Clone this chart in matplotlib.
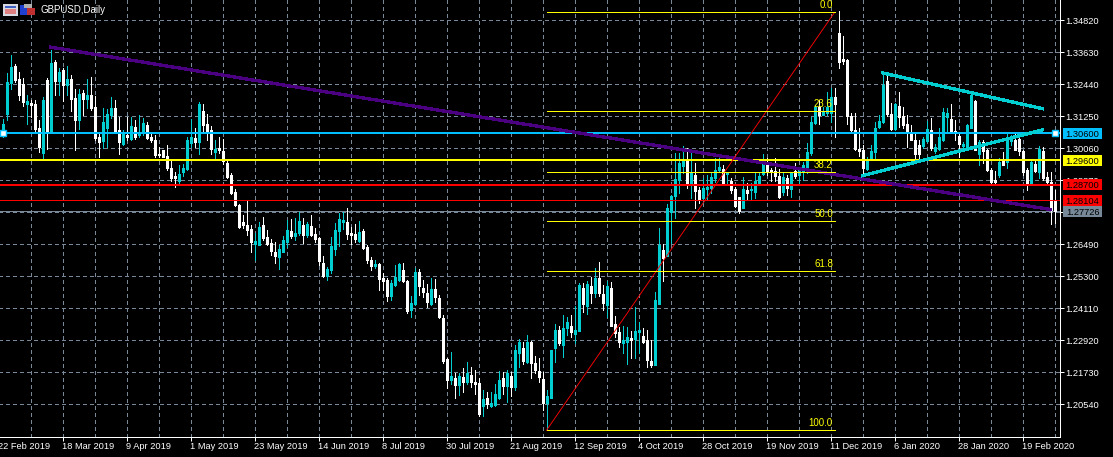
import numpy as np
import matplotlib
matplotlib.use("Agg")
import matplotlib.pyplot as plt
from matplotlib.patches import Rectangle
from matplotlib.transforms import Affine2D
from matplotlib.ticker import FixedLocator

# Candle values, in units of 0.0001 (GBPUSD); T = up candle, W = down candle
direction = ("TTTWWWTWWW" "TWTWTWTWWT" "WTWWWTTTWW" "TWTWTTWWWW" "WWWWTTTTWT" "WWWTWWWWWW" "WWWTTWWWWT"
             "TTWTTWTWWW" "WTTTTTWWWT" "WWWTWWWTTT" "WWTTWWWTWW" "WWTWTWTWWW" "TWTTTWTWTT" "WTWWWWTTTW"
             "TTWTTWTWTW" "WTWWWTTWTT" "WWWTTWTTTT" "TWTWWTTTTT" "WTWWWTWTTT" "TWWWWTWTWT" "TTTTWTTTWW"
             "WWWWWWTTTT" "TWWTWWWWWW" "TTWTTTTWWW" "TTTWTWWWWT" "WTTWWWWTWT" "WWWW")
body_top = [
 13097,13252,13309,13312,13264,13246,13182,13175,13171,13082,
 13186,13260,13324,13327,13290,13298,13264,13264,13193,13208,
 13212,13205,13205,13160,13048,13104,13134,13156,13156,13074,
 13059,13056,13089,13086,13063,13100,13093,13048,13037,12985,
 13000,12978,12933,12903,12911,12933,13037,13048,13045,13171,
 13145,13097,13074,13004,13007,12996,12952,12907,12844,12795,
 12732,12721,12706,12661,12714,12721,12676,12654,12621,12632,
 12665,12702,12699,12691,12736,12721,12725,12717,12688,12673,
 12580,12557,12643,12702,12743,12740,12732,12691,12688,12695,
 12699,12639,12591,12576,12576,12524,12516,12505,12528,12576,
 12554,12513,12431,12546,12546,12487,12468,12483,12483,12450,
 12375,12223,12159,12152,12159,12156,12170,12163,12137,12133,
 12074,12077,12059,12092,12144,12152,12170,12159,12256,12286,
 12264,12286,12286,12208,12178,12148,12085,12256,12330,12330,
 12338,12360,12345,12330,12498,12487,12502,12494,12524,12524,
 12464,12494,12487,12353,12323,12293,12304,12301,12327,12330,
 12308,12293,12215,12442,12647,12628,12784,12829,12892,12952,
 12963,12963,12918,12907,12851,12859,12862,12900,12926,12937,
 12929,12914,12885,12855,12825,12855,12851,12855,12885,12903,
 12952,12944,12926,12922,12903,12900,12896,12914,12922,12926,
 12944,12993,13104,13160,13160,13145,13160,13197,13197,13435,
 13339,13335,13126,13074,13004,13000,12963,12996,13082,13108,
 13242,13257,13134,13171,13164,13126,13097,13067,13037,13019,
 13041,13078,13074,13011,13048,13141,13138,13115,13071,13052,
 13022,13093,13205,13182,13030,13030,13000,12926,12888,12955,
 12959,13037,13045,13037,13041,12996,12926,12955,12948,13004,
 12996,12900,12881,12810]
body_bot = [
 13068,13134,13249,13260,13205,13179,13171,13167,13078,13011,
 12988,13071,13071,13257,13257,13242,13242,13190,13112,13112,
 13190,13190,13156,13045,13030,13033,13082,13130,13071,13030,
 13022,13048,13041,13048,13056,13063,13045,13037,12981,12981,
 12974,12933,12896,12896,12885,12918,12929,13026,13030,13030,
 13093,13071,13004,12993,13000,12959,12900,12840,12795,12714,
 12721,12702,12658,12650,12647,12673,12650,12624,12606,12602,
 12621,12658,12680,12680,12691,12684,12684,12684,12669,12587,
 12531,12531,12554,12632,12699,12732,12688,12684,12669,12661,
 12635,12591,12568,12568,12520,12513,12457,12457,12498,12516,
 12513,12401,12405,12427,12494,12472,12435,12427,12453,12379,
 12215,12144,12144,12126,12126,12137,12137,12137,12130,12018,
 12048,12055,12048,12051,12077,12122,12122,12118,12118,12245,
 12215,12211,12208,12182,12156,12059,12059,12077,12264,12282,
 12275,12338,12323,12316,12327,12427,12420,12468,12468,12468,
 12431,12423,12345,12319,12286,12282,12286,12293,12297,12323,
 12286,12219,12200,12200,12427,12598,12606,12769,12829,12888,
 12940,12870,12874,12847,12818,12821,12855,12859,12896,12926,
 12877,12911,12851,12792,12773,12784,12840,12851,12844,12877,
 12911,12922,12922,12903,12825,12844,12859,12855,12903,12907,
 12918,12926,12989,13100,13130,13130,13138,13138,13171,13327,
 13331,13126,13074,13004,12996,12933,12929,12967,12993,13086,
 13104,13134,13078,13078,13123,13093,13067,13037,12985,12985,
 13015,13033,13007,12996,13004,13037,13123,13067,13063,13022,
 13015,13004,13082,13000,12985,12996,12926,12881,12881,12907,
 12944,12955,13033,13000,12996,12918,12874,12874,12922,12918,
 12896,12881,12777,12773]
highs = [
 13114,13288,13353,13322,13291,13267,13205,13186,13186,13112,
 13198,13267,13374,13335,13304,13304,13312,13279,13226,13229,
 13223,13264,13270,13201,13062,13155,13151,13196,13188,13124,
 13074,13124,13124,13112,13130,13118,13105,13062,13056,13012,
 13000,13019,12963,12919,12944,12948,13050,13114,13081,13179,
 13171,13134,13089,13037,13050,13043,12963,12913,12854,12799,
 12758,12810,12721,12691,12732,12751,12702,12669,12658,12647,
 12680,12740,12743,12747,12769,12747,12732,12758,12710,12676,
 12606,12565,12676,12728,12766,12769,12784,12714,12725,12736,
 12706,12647,12602,12591,12580,12542,12524,12516,12572,12580,
 12580,12516,12457,12561,12557,12516,12502,12524,12520,12461,
 12386,12226,12249,12170,12170,12189,12211,12193,12182,12152,
 12107,12100,12100,12130,12178,12174,12182,12174,12275,12297,
 12286,12312,12289,12234,12226,12174,12107,12256,12353,12345,
 12386,12379,12386,12420,12505,12505,12513,12528,12561,12583,
 12498,12513,12509,12382,12342,12345,12342,12327,12416,12360,
 12338,12330,12293,12472,12710,12650,12799,12833,12989,12989,
 13015,13007,13000,12952,12862,12896,12907,12918,12970,12974,
 12944,12918,12896,12862,12825,12900,12877,12877,12918,12918,
 12985,12970,12933,12970,12929,12914,12907,12918,12952,12937,
 12955,13026,13123,13167,13186,13160,13216,13231,13231,13517,
 13424,13339,13138,13138,13082,13019,12974,13019,13104,13130,
 13286,13279,13175,13175,13216,13160,13130,13093,13063,13037,
 13048,13108,13119,13022,13082,13156,13156,13171,13112,13063,
 13030,13097,13212,13186,13037,13037,13004,12933,12922,12970,
 12993,13067,13056,13063,13056,13000,12933,12963,12963,13015,
 13011,12918,12918,12851]
lows = [
 13050,13112,13229,13254,13186,13164,13097,13124,13068,12994,
 12965,13004,13068,13205,13205,13182,13205,13145,13000,13078,
 13130,13155,13149,13037,12975,13006,13012,13119,13068,12985,
 13019,13037,13037,13043,13050,13056,13040,13030,12975,12975,
 12974,12926,12885,12864,12874,12903,12926,13012,13012,12985,
 13068,13037,12985,12963,12990,12950,12895,12836,12792,12710,
 12710,12684,12621,12591,12647,12665,12647,12609,12580,12557,
 12621,12639,12673,12665,12684,12654,12676,12680,12658,12572,
 12528,12516,12542,12609,12643,12706,12669,12650,12658,12658,
 12632,12580,12554,12561,12479,12479,12438,12442,12494,12513,
 12509,12394,12379,12423,12461,12453,12416,12423,12435,12375,
 12208,12115,12130,12077,12089,12100,12130,12118,12092,12011,
 12011,12040,12044,12048,12074,12092,12062,12085,12107,12193,
 12204,12208,12152,12170,12137,12033,11958,12077,12211,12275,
 12230,12312,12304,12282,12327,12397,12390,12431,12453,12457,
 12405,12379,12345,12304,12267,12245,12204,12226,12226,12245,
 12282,12193,12193,12200,12427,12513,12606,12654,12747,12840,
 12914,12859,12821,12784,12803,12803,12814,12840,12881,12918,
 12870,12877,12840,12788,12766,12784,12814,12814,12821,12877,
 12907,12907,12885,12885,12821,12833,12833,12825,12896,12877,
 12888,12914,12981,13097,13097,13130,13130,13104,13048,13305,
 13320,13097,13063,13000,12978,12907,12926,12963,12963,13082,
 13100,13126,13074,13074,13086,13082,13011,13037,12963,12963,
 13007,13030,13000,12989,13000,13033,13063,13063,13037,12974,
 13007,13000,13082,13000,12944,12952,12922,12877,12874,12900,
 12944,12933,13019,13000,12981,12907,12851,12874,12918,12896,
 12888,12877,12725,12728]

date_labels = ["22 Feb 2019", "18 Mar 2019", "9 Apr 2019", "1 May 2019", "23 May 2019", "14 Jun 2019",
               "8 Jul 2019", "30 Jul 2019", "21 Aug 2019", "12 Sep 2019", "4 Oct 2019", "28 Oct 2019",
               "19 Nov 2019", "11 Dec 2019", "6 Jan 2020", "28 Jan 2020", "19 Feb 2020"]
price_ticks = [1.34820, 1.33630, 1.32440, 1.31250, 1.30060, 1.28870, 1.27680,
               1.26490, 1.25300, 1.24110, 1.22920, 1.21730, 1.20540]
hidden_ticks = [1.27680]

# Horizontal levels: (price of the line, price of the box, caption, colour, line px)
levels = [(1.3063, 1.3063, "1.30600", "#00BFFF", 2),
          (1.2964, 1.2961, "1.29600", "#FFFF00", 2),
          (1.2871, 1.2871, "1.28700", "#FF0000", 2),
          (1.2813, 1.2813, "1.28104", "#FF0000", 1)]
bid_price = 1.27726

# Trend lines: candle index and price
purple_n, purple_p = [12, 262], [1.3383, 1.2779]
cyan_up_n, cyan_up_p = [220, 260], [1.3287, 1.3154]
cyan_lo_n, cyan_lo_p = [215, 260], [1.2905, 1.3075]

# Fibonacci retracement
fib_n = [136, 208]
fib_high, fib_low = 1.3512, 1.1958
fib_ratios = [0.0, 0.236, 0.382, 0.5, 0.618, 1.0]
fib_labels = ["0.0", "23.6", "38.2", "50.0", "61.8", "100.0"]

W, H = 1113, 457
PX = 1 / (0.0119 / 32)          # pixels per unit of price
TEAL = "#00CED1"
GRID = "#778899"
px = 72 / 100                   # points per pixel
FONT = 6.7

plt.rcParams["font.family"] = "Liberation Sans"
fig = plt.figure(figsize=(W / 100, H / 100), dpi=100, facecolor="black")
right, bottom = 1060.5, 436.5
ax = fig.add_axes([-1.5 / W, 1 - bottom / H, (right + 0.5) / W, bottom / H], facecolor="black")
ax.set_xlim(-1, -1 + (right + 0.5) / 4)
ax.set_ylim(1.35582 - bottom / PX, 1.35582)
ax.set_axisbelow(True)

x = np.arange(len(direction))
top = np.array(body_top) / 1e4
bot = np.array(body_bot) / 1e4
hi = np.array(highs) / 1e4
lo = np.array(lows) / 1e4
up = np.array([c == "T" for c in direction])
colors = [TEAL if u else "white" for u in up]

ax.vlines(x, lo, hi, colors=colors, linewidth=px, zorder=3, antialiased=False)
ax.vlines(x, bot, top, colors=colors, linewidth=3 * px, capstyle="butt", zorder=3.1, antialiased=False)

# Axes, ticks and grid
for s in ("top", "left"):
    ax.spines[s].set_visible(False)
for s in ("right", "bottom"):
    ax.spines[s].set_color("white")
    ax.spines[s].set_linewidth(px)
    ax.spines[s].set_antialiased(False)
ax.yaxis.tick_right()
ax.set_yticks(price_ticks)
ax.set_yticklabels(["" if p in hidden_ticks else f"{p:.5f}" for p in price_ticks])
ax.set_xticks(-1 + 16 * np.arange(len(date_labels)))
ax.set_xticklabels(date_labels, ha="left")
ax.xaxis.set_minor_locator(FixedLocator(7 + 16 * np.arange(len(date_labels))))
ax.tick_params(axis="both", which="major", colors="white", labelcolor="white", length=4 * px,
               width=px, labelsize=FONT, pad=1.3)
ax.tick_params(axis="x", which="minor", length=0)
ax.grid(True, which="both", color=GRID, linewidth=px, linestyle=(0, (3.5, 3)), antialiased=False)

# Levels and their boxes on the right
def box(price, color, text):
    ax.add_patch(Rectangle((1 + 3.5 / right, price - 5.5 / PX), 39 / right, 11 / PX,
                           transform=ax.get_yaxis_transform(), clip_on=False,
                           facecolor=color, edgecolor="none", zorder=10))
    ax.text(1 + 23 / right, price, text, transform=ax.get_yaxis_transform(), color="black",
            fontsize=FONT, ha="center", va="center_baseline", zorder=11, clip_on=False)

for line_p, box_p, cap, col, w in levels:
    ax.axhline(line_p, color=col, linewidth=w * px, zorder=5, antialiased=False)
    box(box_p, col, cap)
ax.axhline(bid_price, color=GRID, linewidth=px, zorder=2, antialiased=False)
box(bid_price, GRID, f"{bid_price:.5f}")

ax.plot([0, 263], [levels[0][0]] * 2, linestyle="none", marker="s", markersize=6 * px,
        markerfacecolor="white", markeredgecolor="#00BFFF", markeredgewidth=1.4 * px, zorder=6)

# Trend lines
ax.plot(purple_n, purple_p, color="#4B0082", linewidth=2.3 * px, zorder=6, antialiased=False)
ax.plot(cyan_up_n, cyan_up_p, color=TEAL, linewidth=2.3 * px, zorder=6, antialiased=False)
ax.plot(cyan_lo_n, cyan_lo_p, color=TEAL, linewidth=2.3 * px, zorder=6, antialiased=False)

# Fibonacci
ax.plot(fib_n, [fib_low, fib_high], color="#FF0000", linewidth=0.9 * px, zorder=7)
for r, lab in zip(fib_ratios, fib_labels):
    p = fib_high - r * (fib_high - fib_low)
    ax.plot(fib_n, [p, p], color="#FFFF00", linewidth=px, zorder=7, solid_capstyle="butt", antialiased=False)
    ax.text(fib_n[1] - 0.4, p + 2 / PX, lab, color="#FFFF00", fontsize=FONT + 0.3, ha="right", va="bottom", zorder=8)

# Header: icons and symbol caption
to_fig = Affine2D().scale(1 / W, -1 / H).translate(0, 1) + fig.transFigure
def icon(xp, yp, w, h, color):
    fig.add_artist(Rectangle((xp, yp), w, h, transform=to_fig, facecolor=color, edgecolor="none", zorder=20))
icon(3, 4, 15, 12, "#D8D8E0")
icon(5, 6, 11, 2, "#4060C0")
icon(5, 9, 11, 5, "#E08080")
icon(20, 5, 8, 10, "#2040D0")
icon(27, 8, 8, 7, "#C03030")
icon(24, 4, 8, 4, "#B0B0B0")
fig.text(41 / W, 1 - 10 / H, "GBPUSD,Daily", color="white", fontsize=FONT + 0.3, ha="left", va="center", zorder=20)

fig.savefig("out.png", dpi=100, facecolor="black")
